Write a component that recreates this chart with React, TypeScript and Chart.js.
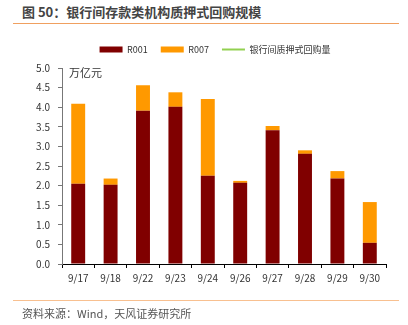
import React, { useEffect, useRef } from "react";
import { Chart, registerables } from "chart.js";

Chart.register(...registerables);

const categories = ["9/17", "9/18", "9/22", "9/23", "9/24", "9/26", "9/27", "9/28", "9/29", "9/30"];
const r001 = [2.05, 2.02, 3.91, 4.01, 2.25, 2.07, 3.41, 2.81, 2.18, 0.54];
const r007 = [2.04, 0.16, 0.65, 0.37, 1.96, 0.05, 0.11, 0.09, 0.19, 1.04];
const repoVolume: number[] = [];
const yTicks = [0, 0.5, 1, 1.5, 2, 2.5, 3, 3.5, 4, 4.5, 5];

const FONT = "'Noto Sans CJK SC', 'Noto Sans', sans-serif";

const legendGap = {
  id: "legendGap",
  beforeInit(chart: any) {
    const orig = chart.legend.fit;
    chart.legend.fit = function fit() {
      orig.bind(chart.legend)();
      this.height += 4;
    };
  },
  afterLayout(chart: any) {
    const lg = chart.legend;
    if (lg) {
      lg.left += 22;
      lg.right += 22;
    }
  },
};

const unitLabel = {
  id: "unitLabel",
  afterDraw(chart: any) {
    const { ctx, chartArea } = chart;
    ctx.save();
    ctx.font = `11px ${FONT}`;
    ctx.fillStyle = "#333";
    ctx.textBaseline = "middle";
    ctx.textAlign = "left";
    ctx.fillText("万亿元", chartArea.left + 7, chartArea.top + 5);
    ctx.restore();
  },
};

export default function App() {
  const ref = useRef<HTMLCanvasElement | null>(null);
  useEffect(() => {
    if (!ref.current) return;
    const chart = new Chart(ref.current, {
      type: "bar",
      data: {
        labels: categories,
        datasets: [
          { label: "R001", data: r001, backgroundColor: "#800000", borderWidth: 0, stack: "s" },
          { label: "R007", data: r007, backgroundColor: "#FF9900", borderWidth: 0, stack: "s" },
          {
            type: "line" as any,
            label: "银行间质押式回购量",
            data: repoVolume,
            borderColor: "#92D050",
            backgroundColor: "#92D050",
            borderWidth: 2,
            pointRadius: 0,
          } as any,
        ],
      },
      options: {
        animation: false,
        responsive: false,
        maintainAspectRatio: false,
        layout: { padding: { left: 0, right: 22, top: 32, bottom: 41 } },
        datasets: { bar: { barPercentage: 0.43, categoryPercentage: 1 } } as any,
        plugins: {
          tooltip: { enabled: false },
          legend: {
            position: "top",
            labels: {
              font: { family: FONT, size: 9 },
              color: "#333",
              usePointStyle: true,
              pointStyleWidth: 23,
              boxHeight: 6,
              padding: 13,
              generateLabels: (chart: any) =>
                chart.data.datasets.map((ds: any, i: number) => ({
                  text: ds.label,
                  fillStyle: i < 2 ? ds.backgroundColor : "rgba(0,0,0,0)",
                  strokeStyle: i < 2 ? ds.backgroundColor : ds.borderColor,
                  lineWidth: i < 2 ? 0 : 2,
                  pointStyle: i < 2 ? "rect" : "line",
                  hidden: false,
                  datasetIndex: i,
                  fontColor: "#333",
                })),
            },
          },
        },
        scales: {
          x: {
            stacked: true,
            offset: true,
            grid: { display: true, drawOnChartArea: false, offset: true, tickLength: 4, color: "#000", tickColor: "#000" },
            border: { display: true, color: "#000", width: 1 },
            ticks: { color: "#333", font: { family: FONT, size: 10 }, padding: 4, maxRotation: 0 },
            afterFit: (s: any) => { s.height = 20; },
          },
          y: {
            stacked: true,
            min: 0,
            max: 5,
            afterBuildTicks: (s: any) => { s.ticks = yTicks.map((v) => ({ value: v })); },
            grid: { display: true, drawOnChartArea: false, tickLength: 4, color: "#777", tickColor: "#777" },
            border: { display: true, color: "#777", width: 1 },
            ticks: {
              color: "#333",
              font: { family: FONT, size: 10 },
              padding: 8,
              callback: (v: any) => Number(v).toFixed(1),
            },
            afterFit: (s: any) => { s.width = 62; },
          },
        },
      },
      plugins: [legendGap, unitLabel],
    });
    return () => chart.destroy();
  }, []);

  return (
    <div style={{ position: "absolute", left: 0, top: 0, width: 408, height: 325, background: "#fff", fontFamily: FONT }}>
      <div style={{ position: "absolute", left: 22, top: 2, fontSize: 13, fontWeight: 700, color: "#444", whiteSpace: "nowrap", lineHeight: "20px" }}>
        图 50：银行间存款类机构质押式回购规模
      </div>
      <div style={{ position: "absolute", left: 13, top: 23, width: 386, height: 1, background: "#F0A060" }} />
      <canvas ref={ref} width={408} height={325} style={{ position: "absolute", left: 0, top: 0, width: 408, height: 325 }} />
      <div style={{ position: "absolute", left: 13, top: 300, width: 386, height: 1, background: "#F8C090" }} />
      <div style={{ position: "absolute", left: 22, top: 305, fontSize: 11, color: "#555", whiteSpace: "nowrap", lineHeight: "16px" }}>
        资料来源：Wind，天风证券研究所
      </div>
    </div>
  );
}
